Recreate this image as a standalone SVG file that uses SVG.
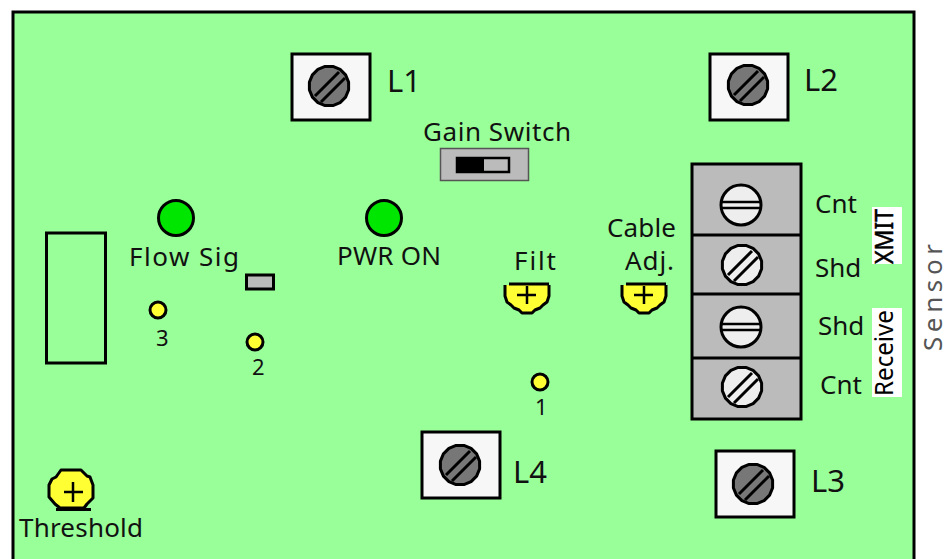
<svg xmlns="http://www.w3.org/2000/svg" width="950" height="559" viewBox="0 0 950 559">
<style>
text{font-family:"Noto Sans","DejaVu Sans",sans-serif;fill:#111;font-size:26px}
.box{fill:#f7f7f7;stroke:#000;stroke-width:3}
.ln{stroke:#000;stroke-width:3;fill:none}
.led{fill:#00e600;stroke:#000;stroke-width:3}
.tp{fill:#ffff33;stroke:#000;stroke-width:3}
.tb{fill:#bbb;stroke:#000;stroke-width:3}
.big{font-size:31px}
.num{font-size:22px}
</style>
<defs>
<polygon id="gon" points="19.600,3.900 16.600,11.100 11.100,16.600 3.900,19.600 -3.900,19.600 -11.100,16.600 -16.600,11.100 -19.600,3.900 -19.600,-3.900 -16.600,-11.100 -11.100,-16.600 -3.900,-19.600 3.900,-19.600 11.100,-16.600 16.600,-11.100 19.600,-3.900" stroke="#000" stroke-width="3" stroke-linejoin="round"/>
<g id="darkscrew">
<use href="#gon" fill="#777"/>
<path d="M-14 10L10 -14M-8 16L16 -8" stroke="#000" stroke-width="3" fill="none"/>
</g>
<g id="lightdiag">
<use href="#gon" fill="#eee"/>
<path d="M-14 10L10 -14M-8 16L16 -8" stroke="#000" stroke-width="3" fill="none"/>
</g>
<g id="lighthor">
<circle r="20" fill="#eee" stroke="#000" stroke-width="3"/>
<path d="M-20 -3H20M-20 3H20" stroke="#000" stroke-width="2.500" fill="none"/>
</g>
<g id="half">
<path d="M-22 2V13L-20 19L-16 22L-13 25L-8 27L-5 30H5L8 27L13 25L16 22L20 19L22 13V2" fill="#ffff33" stroke="#000" stroke-width="3" stroke-linejoin="round"/>
<path d="M-18 1H22" stroke="#000" stroke-width="3"/>
<path d="M-10 12H9M0 3V21" stroke="#000" stroke-width="2.500"/>
</g>
</defs>
<rect id="board" x="13" y="12" width="901" height="560" fill="#99ff99" stroke="#000" stroke-width="3"/>
<g id="connectors"></g>
<g id="L1"><rect class="box" x="292" y="54" width="78" height="66"/><use href="#darkscrew" x="329" y="86"/><text class="big" x="387" y="92">L1</text></g>
<g id="L2"><rect class="box" x="710" y="54" width="78" height="66"/><use href="#darkscrew" x="748" y="85"/><text class="big" x="804" y="91">L2</text></g>
<g id="L4"><rect class="box" x="422" y="432" width="78" height="66"/><use href="#darkscrew" x="460" y="465"/><text class="big" x="513" y="483">L4</text></g>
<g id="L3"><rect class="box" x="716" y="451" width="78" height="66"/><use href="#darkscrew" x="753" y="484"/><text class="big" x="811" y="492">L3</text></g>
<g id="gain-switch">
<text x="423" y="141" textLength="148" lengthAdjust="spacing">Gain Switch</text>
<rect x="440.500" y="148.500" width="88" height="32" fill="#bbb" stroke="#555" stroke-width="1.500"/>
<rect x="457" y="158" width="52" height="14" fill="#bbb" stroke="#000" stroke-width="2.500"/>
<rect x="456" y="157" width="28" height="16" fill="#000"/>
</g>
<g id="terminal-block">
<rect class="tb" x="692" y="164" width="109" height="255"/>
<path class="ln" d="M692 235H801M692 294H801M692 358H801"/>
<use href="#lighthor" x="741" y="205"/>
<use href="#lightdiag" x="742" y="265"/>
<use href="#lighthor" x="741" y="327"/>
<use href="#lightdiag" x="742" y="387"/>
<text x="815" y="213">Cnt</text>
<text x="815" y="277">Shd</text>
<text x="818" y="335">Shd</text>
<text x="820" y="394">Cnt</text>
</g>
<g id="xmit"><rect x="872" y="207" width="30" height="57" fill="#fff"/><text transform="translate(893,264) rotate(-90)" textLength="55" lengthAdjust="spacingAndGlyphs" style="font-size:25px;fill:#000;stroke:#000;stroke-width:.5">XMIT</text></g>
<g id="receive"><rect x="872" y="308" width="30" height="89" fill="#fff"/><text transform="translate(893,396) rotate(-90)" textLength="86" lengthAdjust="spacingAndGlyphs" style="font-size:25px;fill:#000">Receive</text></g>
<g id="sensor"><text transform="translate(942,351) rotate(-90)" textLength="107" lengthAdjust="spacing" style="font-size:26px;fill:#555">Sensor</text></g>
<g id="flow-sig"><circle class="led" cx="176" cy="218" r="17.500"/><text x="129" y="266" textLength="110" lengthAdjust="spacing">Flow Sig</text></g>
<g id="pwr-on"><circle class="led" cx="384" cy="218" r="17.500"/><text x="337" y="265" textLength="104" lengthAdjust="spacing">PWR ON</text></g>
<g id="small-part"><rect x="246.500" y="275" width="27" height="14" fill="#bbb" stroke="#000" stroke-width="3"/></g>
<g id="left-rect"><rect x="46.500" y="233" width="59" height="130" fill="none" stroke="#000" stroke-width="3"/></g>
<g id="tp3"><circle class="tp" cx="158" cy="310" r="8"/><text class="num" x="156" y="346">3</text></g>
<g id="tp2"><circle class="tp" cx="255" cy="342" r="8"/><text class="num" x="252" y="375">2</text></g>
<g id="tp1"><circle class="tp" cx="540" cy="382" r="8"/><text class="num" x="535" y="415">1</text></g>
<g id="filt"><use href="#half" x="527" y="283"/><text x="514" y="270" textLength="42" lengthAdjust="spacing">Filt</text></g>
<g id="cable-adj"><use href="#half" x="644" y="283"/><text x="607" y="237" textLength="69" lengthAdjust="spacing">Cable</text><text x="625" y="270" textLength="49" lengthAdjust="spacing">Adj.</text></g>
<g id="threshold">
<path d="M56 509.500H91" stroke="#000" stroke-width="3"/>
<polygon points="61,470 81,470 87,476 90,477 93,485 93,498 87,504 84,508 60,508 55,504 49,497 49,485 52,479 56,477" fill="#ffff33" stroke="#000" stroke-width="3" stroke-linejoin="round"/>
<path d="M64 492H83M73 482V502" stroke="#000" stroke-width="2.500"/>
<text x="19" y="537" textLength="124" lengthAdjust="spacing">Threshold</text>
</g>
</svg>
